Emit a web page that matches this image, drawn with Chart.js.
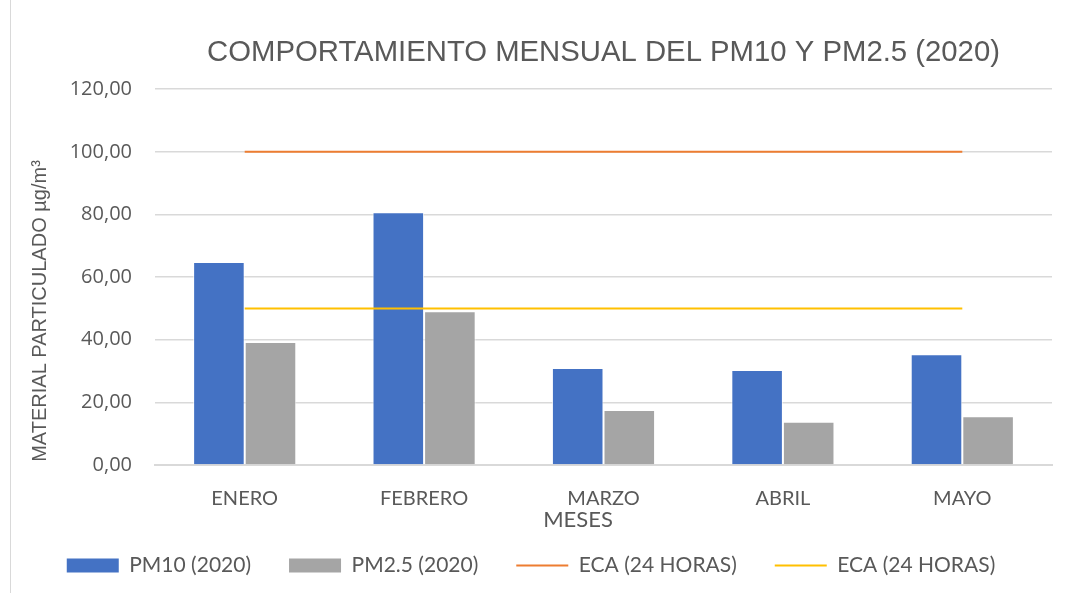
<!DOCTYPE html>
<html>
<head>
<meta charset="utf-8">
<script src="https://cdn.jsdelivr.net/npm/chart.js@4.4.0/dist/chart.umd.min.js"></script>
<style>
  html, body { margin: 0; padding: 0; background: #fff; }
  #marco { position: absolute; left: 0; top: 0; width: 1066px; height: 593px; }
  #borde { position: absolute; left: 10px; top: 0; width: 1px; height: 593px; background: #d9d9d9; }
</style>
</head>
<body>
<div id="marco"><canvas id="graficaPM" width="1066" height="593"></canvas></div>
<div id="borde"></div>
<script>
// datos
var meses = ['ENERO', 'FEBRERO', 'MARZO', 'ABRIL', 'MAYO']
var pm10 = [64.8, 80.7, 31.0, 30.3, 35.4]
var pm25 = [39.3, 49.1, 17.6, 13.8, 15.6]
var eca10 = [100, 100, 100, 100, 100]
var eca25 = [50, 50, 50, 50, 50]
var ticksY = [0, 20, 40, 60, 80, 100, 120]

var gris = '#595959'
var fuente = 'Lato, "Open Sans", sans-serif'

// titulos de los ejes (en Excel quedan algo corridos)
const titulosEjes = {
  id: 'titulosEjes',
  afterDraw: function(chart) {
    var c = chart.ctx
    c.save()
    c.fillStyle = gris
    c.textAlign = 'center'
    c.textBaseline = 'middle'
    c.font = '20px "Liberation Sans", Arial, sans-serif'
    c.translate(40, 311)
    c.rotate(-Math.PI / 2)
    c.fillText('MATERIAL PARTICULADO µg/m³', 0, 0)
    c.restore()
    c.save()
    c.fillStyle = gris
    c.textAlign = 'center'
    c.textBaseline = 'middle'
    c.font = '22px ' + fuente
    c.fillText('MESES', 578, 520)
    c.restore()
  }
}

const ctx = document.getElementById('graficaPM');
const myChart = new Chart(ctx, {
  data: {
    labels: meses,
    datasets: [
      {
        type: 'bar',
        label: 'PM10 (2020)',
        data: pm10,
        backgroundColor: '#4472C4',
        borderColor: 'rgba(255,255,255,0.7)',
        borderWidth: 1,
        pointStyle: 'rect',
        categoryPercentage: 0.575,
        barPercentage: 1,
        order: 2
      },
      {
        type: 'bar',
        label: 'PM2.5 (2020)',
        data: pm25,
        backgroundColor: '#A5A5A5',
        borderColor: 'rgba(255,255,255,0.7)',
        borderWidth: 1,
        pointStyle: 'rect',
        categoryPercentage: 0.575,
        barPercentage: 1,
        order: 2
      },
      {
        type: 'line',
        label: 'ECA (24 HORAS)',
        data: eca10,
        borderColor: '#ED7D31',
        backgroundColor: '#ED7D31',
        borderWidth: 2,
        pointRadius: 0,
        pointStyle: 'line',
        order: 1
      },
      {
        type: 'line',
        label: 'ECA (24 HORAS)',
        data: eca25,
        borderColor: '#FFC000',
        backgroundColor: '#FFC000',
        borderWidth: 2,
        pointRadius: 0,
        pointStyle: 'line',
        order: 1
      }
    ]
  },
  plugins: [titulosEjes],
  options: {
    responsive: false,
    animation: false,
    layout: { padding: { left: 10, right: 14, top: 0, bottom: 7 } },
    plugins: {
      title: {
        display: true,
        fullSize: false,
        text: 'COMPORTAMIENTO MENSUAL DEL PM10 Y PM2.5 (2020)',
        color: gris,
        font: { family: '"Liberation Sans", Arial, sans-serif', size: 29.3, weight: 'normal', lineHeight: 1.2 },
        padding: { top: 35, bottom: 19 }
      },
      legend: {
        position: 'bottom',
        labels: {
          usePointStyle: true,
          pointStyleWidth: 52,
          boxHeight: 14,
          color: gris,
          padding: 38,
          font: { family: fuente, size: 21 },
          sort: function(a, b) { return a.datasetIndex - b.datasetIndex },
          generateLabels: function(chart) {
            var items = Chart.defaults.plugins.legend.labels.generateLabels(chart)
            items.forEach(function(it) {
              if (it.pointStyle === 'line') { it.lineWidth = 2 } else { it.lineWidth = 0 }
            })
            return items
          }
        }
      },
      tooltip: { enabled: false }
    },
    scales: {
      x: {
        afterFit: function(s) { s.height = 52 },
        grid: { display: false },
        border: { color: '#d9d9d9', width: 2 },
        ticks: { color: gris, font: { family: fuente, size: 20 }, padding: 14 }
      },
      y: {
        min: 0,
        max: 120,
        afterBuildTicks: function(s) { s.ticks = ticksY.map(function(v) { return { value: v } }) },
        afterFit: function(s) { s.width = 145 },
        grid: { color: '#d9d9d9', lineWidth: 1.5, drawTicks: false },
        border: { display: false },
        ticks: {
          color: gris,
          font: { family: '"Open Sans", sans-serif', size: 20 },
          padding: 23,
          callback: function(v) { return v.toFixed(2).replace('.', ',') }
        }
      }
    }
  }
});
</script>
</body>
</html>
